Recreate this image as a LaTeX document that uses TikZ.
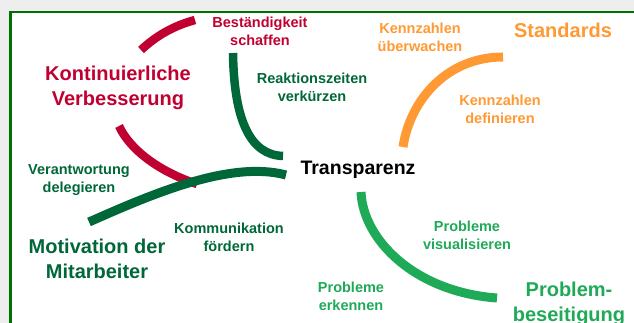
\documentclass[tikz,border=0pt]{standalone}
\usepackage{fontspec}
\setmainfont{Liberation Sans}
\definecolor{crim}{RGB}{193,0,50}
\definecolor{dgreen}{RGB}{0,104,56}
\definecolor{orng}{RGB}{255,153,51}
\definecolor{mgreen}{RGB}{31,170,88}
\definecolor{frame}{RGB}{0,112,0}
\definecolor{bggray}{RGB}{238,238,238}
\begin{document}
\begin{tikzpicture}[x=1pt,y=-1pt,
  small/.style={font=\bfseries\fontsize{14.5}{18}\selectfont,align=center,inner sep=0pt},
  big/.style={font=\bfseries\fontsize{20}{24.5}\selectfont,align=center,inner sep=0pt},
  stroke/.style={line width=8.5pt,line cap=butt}]
\useasboundingbox (0,0) rectangle (634,323);
\fill[bggray] (0,0) rectangle (634,323);
\fill[white] (10,12) rectangle (645,335);
\draw[frame,line width=2.8pt] (645,12) -- (10.3,12) -- (10.3,335);
% curves
\draw[stroke,crim] (141,50) .. controls (156,36) and (173,26) .. (195,20);
\draw[stroke,crim] (119,126) .. controls (130,150) and (160,172) .. (197,184);
\draw[stroke,dgreen] (233,53) .. controls (234,120) and (250,155) .. (283,156);
\draw[stroke,dgreen,line width=9pt] (89,222) .. controls (150,195) and (230,160) .. (286,175);
\draw[stroke,orng,line width=9pt] (403,147) .. controls (410,100) and (447,57) .. (503,57);
\draw[stroke,mgreen,line width=9pt] (361,192) .. controls (363,240) and (415,292) .. (497,298);
% texts
\node[small,crim] (bes) at (260,31) {Beständigkeit\\schaffen};
\node[big,crim] (kon) at (118,88) {Kontinuierliche\\Verbesserung};
\node[small,dgreen] (rea) at (312,87) {Reaktionszeiten\\verkürzen};
\node[small,orng] (kue) at (420,37) {Kennzahlen\\überwachen};
\node[big,orng] (sta) at (563,30) {Standards};
\node[small,orng] (kde) at (500,109) {Kennzahlen\\definieren};
\node[font=\bfseries\fontsize{19.5}{23}\selectfont,inner sep=0pt] (tra) at (358,170) {Transparenz};
\node[small,dgreen] (ver) at (79,180) {Verantwortung\\delegieren};
\node[small,dgreen] (kom) at (229,237) {Kommunikation\\fördern};
\node[big,dgreen] (mot) at (97,259) {Motivation der\\Mitarbeiter};
\node[small,mgreen] (pvi) at (467,235) {Probleme\\visualisieren};
\node[small,mgreen] (per) at (351,296) {Probleme\\erkennen};
\node[big,mgreen] (pbe) at (569,304) {Problem-\\beseitigung};
\end{tikzpicture}
\end{document}
